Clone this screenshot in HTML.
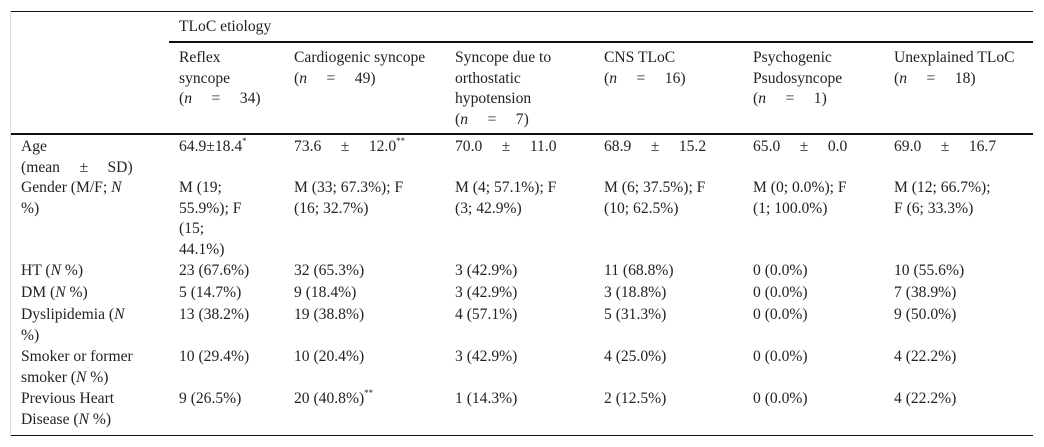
<!DOCTYPE html>
<html><head><meta charset="utf-8">
<style>
body{margin:0;width:1044px;height:447px;background:#fff;position:relative;overflow:hidden;font-family:"Liberation Serif",serif;font-size:15.6px;color:#222}
.c{position:absolute;line-height:20.6px;white-space:nowrap}
.l{position:absolute;background:#111}
i{font-style:italic}
sup{font-size:9px;vertical-align:7px;line-height:0}
</style></head><body>
<div class="l" style="left:10px;top:11px;width:1px;height:425px;background:#ddd"></div>
<div class="l" style="left:11px;top:11px;width:1022px;height:1px"></div>
<div class="l" style="left:169px;top:41px;width:864px;height:2px"></div>
<div class="l" style="left:11px;top:133px;width:1022px;height:2px"></div>
<div class="l" style="left:11px;top:435px;width:1022px;height:1px"></div>

<div class="c" style="left:179px;top:17px">TLoC etiology</div>

<div class="c" style="left:179px;top:48px">Reflex<br>syncope<br>(<i>n</i>&nbsp;&nbsp;&nbsp;&nbsp;&nbsp;=&nbsp;&nbsp;&nbsp;&nbsp;&nbsp;34)</div>
<div class="c" style="left:294px;top:48px">Cardiogenic syncope<br>(<i>n</i>&nbsp;&nbsp;&nbsp;&nbsp;&nbsp;=&nbsp;&nbsp;&nbsp;&nbsp;&nbsp;49)</div>
<div class="c" style="left:455px;top:48px">Syncope due to<br>orthostatic<br>hypotension<br>(<i>n</i>&nbsp;&nbsp;&nbsp;&nbsp;&nbsp;=&nbsp;&nbsp;&nbsp;&nbsp;&nbsp;7)</div>
<div class="c" style="left:604px;top:48px">CNS TLoC<br>(<i>n</i>&nbsp;&nbsp;&nbsp;&nbsp;&nbsp;=&nbsp;&nbsp;&nbsp;&nbsp;&nbsp;16)</div>
<div class="c" style="left:753px;top:48px">Psychogenic<br>Psudosyncope<br>(<i>n</i>&nbsp;&nbsp;&nbsp;&nbsp;&nbsp;=&nbsp;&nbsp;&nbsp;&nbsp;&nbsp;1)</div>
<div class="c" style="left:894px;top:48px">Unexplained TLoC<br>(<i>n</i>&nbsp;&nbsp;&nbsp;&nbsp;&nbsp;=&nbsp;&nbsp;&nbsp;&nbsp;&nbsp;18)</div>

<div class="c" style="left:21px;top:137px">Age<br>(mean&nbsp;&nbsp;&nbsp;&nbsp;&nbsp;±&nbsp;&nbsp;&nbsp;&nbsp;&nbsp;SD)</div>
<div class="c" style="left:179px;top:137px">64.9±18.4<sup>*</sup></div>
<div class="c" style="left:294px;top:137px">73.6&nbsp;&nbsp;&nbsp;&nbsp;&nbsp;±&nbsp;&nbsp;&nbsp;&nbsp;&nbsp;12.0<sup>**</sup></div>
<div class="c" style="left:455px;top:137px">70.0&nbsp;&nbsp;&nbsp;&nbsp;&nbsp;±&nbsp;&nbsp;&nbsp;&nbsp;&nbsp;11.0</div>
<div class="c" style="left:604px;top:137px">68.9&nbsp;&nbsp;&nbsp;&nbsp;&nbsp;±&nbsp;&nbsp;&nbsp;&nbsp;&nbsp;15.2</div>
<div class="c" style="left:753px;top:137px">65.0&nbsp;&nbsp;&nbsp;&nbsp;&nbsp;±&nbsp;&nbsp;&nbsp;&nbsp;&nbsp;0.0</div>
<div class="c" style="left:894px;top:137px">69.0&nbsp;&nbsp;&nbsp;&nbsp;&nbsp;±&nbsp;&nbsp;&nbsp;&nbsp;&nbsp;16.7</div>

<div class="c" style="left:21px;top:178px">Gender (M/F; <i>N</i><br>%)</div>
<div class="c" style="left:179px;top:178px">M (19;<br>55.9%); F<br>(15;<br>44.1%)</div>
<div class="c" style="left:294px;top:178px">M (33; 67.3%); F<br>(16; 32.7%)</div>
<div class="c" style="left:455px;top:178px">M (4; 57.1%); F<br>(3; 42.9%)</div>
<div class="c" style="left:604px;top:178px">M (6; 37.5%); F<br>(10; 62.5%)</div>
<div class="c" style="left:753px;top:178px">M (0; 0.0%); F<br>(1; 100.0%)</div>
<div class="c" style="left:894px;top:178px">M (12; 66.7%);<br>F (6; 33.3%)</div>

<div class="c" style="left:21px;top:261px">HT (<i>N</i> %)</div>
<div class="c" style="left:179px;top:261px">23 (67.6%)</div>
<div class="c" style="left:294px;top:261px">32 (65.3%)</div>
<div class="c" style="left:455px;top:261px">3 (42.9%)</div>
<div class="c" style="left:604px;top:261px">11 (68.8%)</div>
<div class="c" style="left:753px;top:261px">0 (0.0%)</div>
<div class="c" style="left:894px;top:261px">10 (55.6%)</div>

<div class="c" style="left:21px;top:283px">DM (<i>N</i> %)</div>
<div class="c" style="left:179px;top:283px">5 (14.7%)</div>
<div class="c" style="left:294px;top:283px">9 (18.4%)</div>
<div class="c" style="left:455px;top:283px">3 (42.9%)</div>
<div class="c" style="left:604px;top:283px">3 (18.8%)</div>
<div class="c" style="left:753px;top:283px">0 (0.0%)</div>
<div class="c" style="left:894px;top:283px">7 (38.9%)</div>

<div class="c" style="left:21px;top:305px">Dyslipidemia (<i>N</i><br>%)</div>
<div class="c" style="left:179px;top:305px">13 (38.2%)</div>
<div class="c" style="left:294px;top:305px">19 (38.8%)</div>
<div class="c" style="left:455px;top:305px">4 (57.1%)</div>
<div class="c" style="left:604px;top:305px">5 (31.3%)</div>
<div class="c" style="left:753px;top:305px">0 (0.0%)</div>
<div class="c" style="left:894px;top:305px">9 (50.0%)</div>

<div class="c" style="left:21px;top:347px">Smoker or former<br>smoker (<i>N</i> %)</div>
<div class="c" style="left:179px;top:347px">10 (29.4%)</div>
<div class="c" style="left:294px;top:347px">10 (20.4%)</div>
<div class="c" style="left:455px;top:347px">3 (42.9%)</div>
<div class="c" style="left:604px;top:347px">4 (25.0%)</div>
<div class="c" style="left:753px;top:347px">0 (0.0%)</div>
<div class="c" style="left:894px;top:347px">4 (22.2%)</div>

<div class="c" style="left:21px;top:389px">Previous Heart<br>Disease (<i>N</i> %)</div>
<div class="c" style="left:179px;top:389px">9 (26.5%)</div>
<div class="c" style="left:294px;top:389px">20 (40.8%)<sup>**</sup></div>
<div class="c" style="left:455px;top:389px">1 (14.3%)</div>
<div class="c" style="left:604px;top:389px">2 (12.5%)</div>
<div class="c" style="left:753px;top:389px">0 (0.0%)</div>
<div class="c" style="left:894px;top:389px">4 (22.2%)</div>
</body></html>
